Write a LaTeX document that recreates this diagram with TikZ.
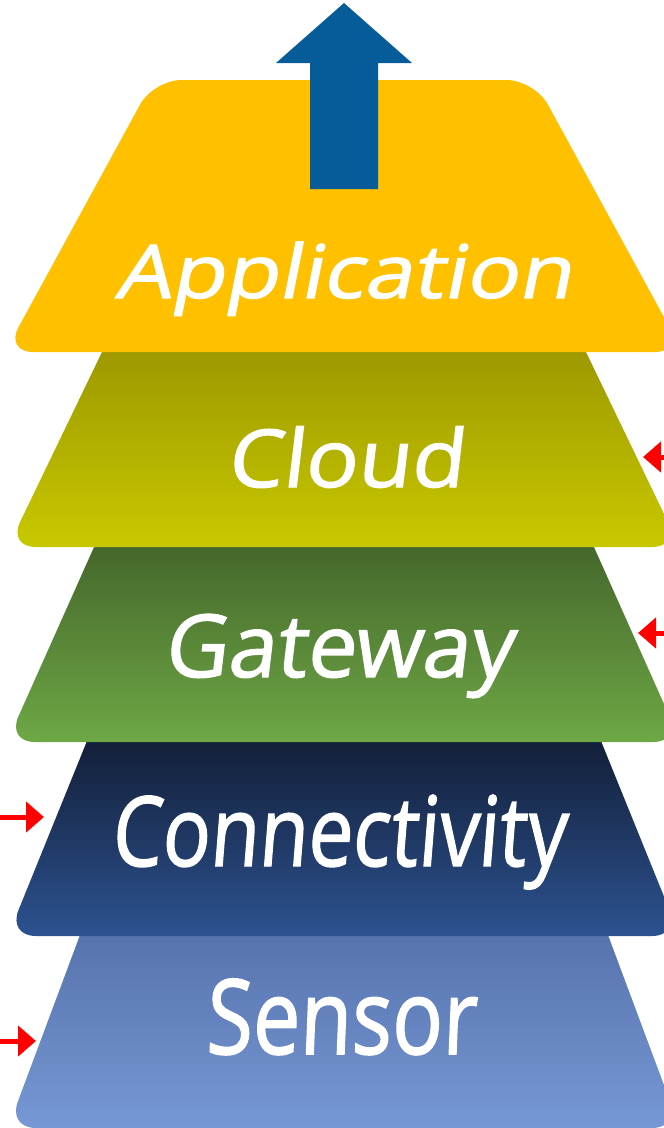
\documentclass[tikz,border=0pt]{standalone}
\usepackage{fontspec}
\newfontfamily\layerfont[FakeBold=1.5]{Open Sans}
\usetikzlibrary{arrows.meta,calc}

\definecolor{appyellow}{RGB}{255,192,0}
\definecolor{upblue}{RGB}{6,92,153}
\definecolor{cloudA}{RGB}{157,153,0}
\definecolor{cloudB}{RGB}{200,200,0}
\definecolor{gateA}{RGB}{69,103,43}
\definecolor{gateB}{RGB}{110,168,70}
\definecolor{connA}{RGB}{19,31,56}
\definecolor{connB}{RGB}{44,82,144}
\definecolor{sensA}{RGB}{87,115,173}
\definecolor{sensB}{RGB}{118,152,213}

\tikzset{
	lbl/.style={text=white, anchor=base, inner sep=0pt},
	redarrow/.style={draw=red, line width=5pt, -{Triangle[length=18pt,width=30pt]}},
}

\begin{document}
\begin{tikzpicture}[x=1pt,y=-1pt]
		\useasboundingbox (0,0) rectangle (664,1128);
		\clip (0,0) rectangle (664,1128);
		
		% lower layers, bottom corners rounded
		\foreach \yt/\yb/\wt/\wb/\ca/\cb in {936/1128/264/336/sensA/sensB, 742/936/257/336/connA/connB, 547/742/249.5/337/gateA/gateB, 352/547/241.5/336/cloudA/cloudB}
		{
			\coordinate (tl) at (344-\wt,\yt-1);
			\coordinate (bl) at (344-\wb,\yb);
			\coordinate (br) at (344+\wb,\yb);
			\coordinate (tr) at (344+\wt,\yt-1);
			\shade[top color=\ca, bottom color=\cb] (tl) -- ($(bl)!28pt!(tl)$)
				.. controls ($(bl)!12pt!(tl)$) and ($(bl)!12pt!(br)$) .. ($(bl)!28pt!(br)$)
				-- ($(br)!28pt!(bl)$)
				.. controls ($(br)!12pt!(bl)$) and ($(br)!12pt!(tr)$) .. ($(br)!28pt!(tr)$)
				-- (tr) -- cycle;
		}
		
		\fill[appyellow, rounded corners=28pt] (153.5,80) -- (5,352) -- (683,352) -- (534.5,80) -- cycle;
		\fill[upblue] (310,189) -- (310,63) -- (276,63) -- (344,3) -- (412,63) -- (378,63) -- (378,189) -- cycle;
		
		\node[lbl, xslant=0.2, xscale=1.18, font=\layerfont\fontsize{74}{80}\selectfont] (app) at (343,298) {Application};
		\node[lbl, xslant=0.12, xscale=1.09, font=\layerfont\fontsize{80}{86}\selectfont] (cloud) at (345,487) {Cloud};
		\node[lbl, xslant=0.12, xscale=1.0, font=\layerfont\fontsize{87}{94}\selectfont] (gate) at (338,677) {Gateway};
		\node[lbl, xslant=0.08, xscale=0.82, font=\layerfont\fontsize{97}{104}\selectfont] (conn) at (338,866) {Connectivity};
		\node[lbl, xslant=0.04, xscale=0.81, font=\layerfont\fontsize{104}{112}\selectfont] (sens) at (341,1054) {Sensor};
		
		\coordinate (cloudIn) at (690,457);
		\coordinate (cloudTip) at (643,457);
		\coordinate (gateIn) at (690,633);
		\coordinate (gateTip) at (638,633);
		\coordinate (connIn) at (-5,817);
		\coordinate (connTip) at (44,817);
		\coordinate (sensIn) at (-5,1041);
		\coordinate (sensTip) at (36,1041);
		
		\draw[redarrow] (cloudIn) -- (cloudTip);
		\draw[redarrow] (gateIn) -- (gateTip);
		\draw[redarrow] (connIn) -- (connTip);
		\draw[redarrow] (sensIn) -- (sensTip);
\end{tikzpicture}
\end{document}
